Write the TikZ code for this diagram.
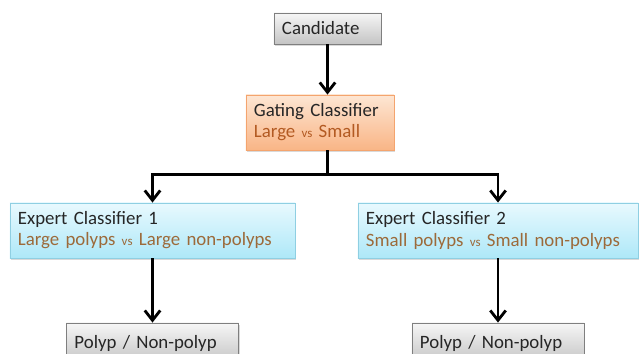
\documentclass[tikz,border=0pt]{standalone}
\usepackage{fontspec}
\setmainfont{Carlito}
\usetikzlibrary{arrows.meta,shadows,positioning}
\definecolor{txtgray}{HTML}{262626}
\definecolor{graytop}{HTML}{F6F6F6}
\definecolor{graybot}{HTML}{C4C4C4}
\definecolor{grayline}{HTML}{7F7F7F}
\definecolor{orangetop}{HTML}{FDE6D3}
\definecolor{orangebot}{HTML}{F9B586}
\definecolor{orangeline}{HTML}{F4A46E}
\definecolor{orangetxt}{HTML}{B35A22}
\definecolor{bluetop}{HTML}{E8F9FE}
\definecolor{bluebot}{HTML}{AEE8F8}
\definecolor{blueline}{HTML}{8FCFE2}
\definecolor{browntxt}{HTML}{9C6A3A}
\newcommand{\vsword}{{\fontsize{9.2}{10}\selectfont vs}}
\begin{document}
\begin{tikzpicture}[x=0.025cm,y=-0.025cm,
    >={Straight Barb[length=7pt,width=11pt,line width=2pt]},
    box/.style={rectangle,draw,line width=0.6pt,inner xsep=0.2cm,inner ysep=0pt,
        align=left,text=txtgray,font=\fontsize{13.4}{15}\selectfont,
        drop shadow={shadow xshift=1pt,shadow yshift=-1.5pt,opacity=0.3}},
    graybox/.style={box,draw=grayline,top color=graytop,bottom color=graybot},
    orangebox/.style={box,draw=orangeline,top color=orangetop,bottom color=orangebot},
    bluebox/.style={box,draw=blueline,top color=bluetop,bottom color=bluebot},
    link/.style={->,line width=2pt}]
\clip (0,0) rectangle (640,354);
% boxes
\node[graybox,text width=2.275cm,minimum height=0.775cm] (cand) at (327.5,28.5) {Candidate};
\node[orangebox,text width=3.3cm,minimum height=1.375cm] (gate) at (320,122.5)
    {Gating Classifier\\\textcolor{orangetxt}{Large \vsword{} Small}};
\node[bluebox,text width=6.725cm,minimum height=1.375cm] (exp1) at (152.5,230.5)
    {Expert Classifier 1\\\textcolor{browntxt}{Large polyps \vsword{} Large non-polyps}};
\node[bluebox,text width=6.6cm,minimum height=1.375cm] (exp2) at (498,230.5)
    {Expert Classifier 2\\\textcolor{browntxt}{Small polyps \vsword{} Small non-polyps}};
\node[graybox,text width=3.9cm,minimum height=1cm] (out1) at (152.5,343) {Polyp / Non-polyp};
\node[graybox,text width=3.9cm,minimum height=1cm] (out2) at (498,343) {Polyp / Non-polyp};
% connectors
\draw[link] (cand) -- (cand |- gate.north);
\draw[line width=2pt] (cand |- gate.south) -- ++(0,24) coordinate (split);
\draw[link] (split) -| (exp1.north);
\draw[link] (split) -| (exp2.north);
\draw[link] (exp1) -- (out1);
\draw[link] (exp2) -- (out2);
\end{tikzpicture}
\end{document}
